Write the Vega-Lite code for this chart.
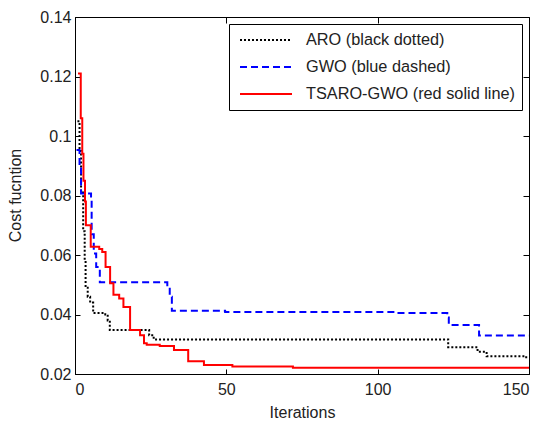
{
  "$schema": "https://vega.github.io/schema/vega-lite/v6.json",
  "width": 454,
  "height": 357,
  "autosize": {"type": "none"},
  "padding": {"left": 75, "top": 17, "right": 21, "bottom": 54},
  "background": "white",
  "config": {
    "font": "Liberation Sans",
    "view": {"stroke": "black", "strokeWidth": 1},
    "axis": {
      "grid": false,
      "domainColor": "black",
      "tickColor": "black",
      "labelColor": "#222",
      "titleColor": "#222",
      "labelFont": "Liberation Sans",
      "titleFont": "Liberation Sans",
      "labelFontSize": 16,
      "titleFontSize": 16,
      "titleFontWeight": "normal",
      "tickSize": -5
    }
  },
  "data": {
    "values": [
      {"series": "ARO (black dotted)", "x": 0.8, "y": 0.105},
      {"series": "ARO (black dotted)", "x": 1.5, "y": 0.095},
      {"series": "ARO (black dotted)", "x": 2, "y": 0.081},
      {"series": "ARO (black dotted)", "x": 2.7, "y": 0.068},
      {"series": "ARO (black dotted)", "x": 3.2, "y": 0.058},
      {"series": "ARO (black dotted)", "x": 3.5, "y": 0.049},
      {"series": "ARO (black dotted)", "x": 4.2, "y": 0.046},
      {"series": "ARO (black dotted)", "x": 5, "y": 0.044},
      {"series": "ARO (black dotted)", "x": 6, "y": 0.0405},
      {"series": "ARO (black dotted)", "x": 10, "y": 0.04},
      {"series": "ARO (black dotted)", "x": 10.8, "y": 0.038},
      {"series": "ARO (black dotted)", "x": 11.5, "y": 0.0348},
      {"series": "ARO (black dotted)", "x": 24.5, "y": 0.033},
      {"series": "ARO (black dotted)", "x": 26, "y": 0.0316},
      {"series": "ARO (black dotted)", "x": 123.3, "y": 0.029},
      {"series": "ARO (black dotted)", "x": 133, "y": 0.0275},
      {"series": "ARO (black dotted)", "x": 136, "y": 0.026},
      {"series": "ARO (black dotted)", "x": 148.7, "y": 0.0256},
      {"series": "ARO (black dotted)", "x": 150, "y": 0.0256},
      {"series": "GWO (blue dashed)", "x": 0.5, "y": 0.0953},
      {"series": "GWO (blue dashed)", "x": 1.5, "y": 0.09},
      {"series": "GWO (blue dashed)", "x": 2, "y": 0.0807},
      {"series": "GWO (blue dashed)", "x": 5.3, "y": 0.079},
      {"series": "GWO (blue dashed)", "x": 5.5, "y": 0.067},
      {"series": "GWO (blue dashed)", "x": 6.2, "y": 0.0605},
      {"series": "GWO (blue dashed)", "x": 7, "y": 0.056},
      {"series": "GWO (blue dashed)", "x": 8.2, "y": 0.0508},
      {"series": "GWO (blue dashed)", "x": 30.5, "y": 0.049},
      {"series": "GWO (blue dashed)", "x": 31.3, "y": 0.046},
      {"series": "GWO (blue dashed)", "x": 32, "y": 0.0413},
      {"series": "GWO (blue dashed)", "x": 49.6, "y": 0.0408},
      {"series": "GWO (blue dashed)", "x": 105.7, "y": 0.0405},
      {"series": "GWO (blue dashed)", "x": 123, "y": 0.039},
      {"series": "GWO (blue dashed)", "x": 123.5, "y": 0.0365},
      {"series": "GWO (blue dashed)", "x": 133.5, "y": 0.0329},
      {"series": "GWO (blue dashed)", "x": 150, "y": 0.0329},
      {"series": "TSARO-GWO (red solid line)", "x": 1, "y": 0.121},
      {"series": "TSARO-GWO (red solid line)", "x": 1.9, "y": 0.106},
      {"series": "TSARO-GWO (red solid line)", "x": 2.4, "y": 0.094},
      {"series": "TSARO-GWO (red solid line)", "x": 2.8, "y": 0.085},
      {"series": "TSARO-GWO (red solid line)", "x": 3.3, "y": 0.078},
      {"series": "TSARO-GWO (red solid line)", "x": 3.6, "y": 0.07},
      {"series": "TSARO-GWO (red solid line)", "x": 5.2, "y": 0.0628},
      {"series": "TSARO-GWO (red solid line)", "x": 8, "y": 0.062},
      {"series": "TSARO-GWO (red solid line)", "x": 9, "y": 0.061},
      {"series": "TSARO-GWO (red solid line)", "x": 10.1, "y": 0.056},
      {"series": "TSARO-GWO (red solid line)", "x": 11.6, "y": 0.0505},
      {"series": "TSARO-GWO (red solid line)", "x": 12.7, "y": 0.0466},
      {"series": "TSARO-GWO (red solid line)", "x": 14.6, "y": 0.0454},
      {"series": "TSARO-GWO (red solid line)", "x": 16, "y": 0.0425},
      {"series": "TSARO-GWO (red solid line)", "x": 18.2, "y": 0.0348},
      {"series": "TSARO-GWO (red solid line)", "x": 21.5, "y": 0.033},
      {"series": "TSARO-GWO (red solid line)", "x": 22.8, "y": 0.0303},
      {"series": "TSARO-GWO (red solid line)", "x": 23.7, "y": 0.0298},
      {"series": "TSARO-GWO (red solid line)", "x": 28, "y": 0.0294},
      {"series": "TSARO-GWO (red solid line)", "x": 32.7, "y": 0.0281},
      {"series": "TSARO-GWO (red solid line)", "x": 37.4, "y": 0.0243},
      {"series": "TSARO-GWO (red solid line)", "x": 42.6, "y": 0.023},
      {"series": "TSARO-GWO (red solid line)", "x": 52, "y": 0.0225},
      {"series": "TSARO-GWO (red solid line)", "x": 72, "y": 0.0221},
      {"series": "TSARO-GWO (red solid line)", "x": 150, "y": 0.0221}
    ]
  },
  "layer": [
    {
      "mark": {"type": "line", "interpolate": "step-after", "strokeWidth": 2, "clip": true},
      "encoding": {
        "x": {
          "field": "x", "type": "quantitative",
          "scale": {"domain": [0, 150], "nice": false},
          "axis": {"values": [0, 50, 100, 150], "title": "Iterations", "labelPadding": 12, "titlePadding": 7}
        },
        "y": {
          "field": "y", "type": "quantitative",
          "scale": {"domain": [0.02, 0.14], "nice": false, "zero": false},
          "axis": {"values": [0.02, 0.04, 0.06, 0.08, 0.1, 0.12, 0.14], "format": ".2~f", "title": "Cost fucntion", "labelPadding": 9, "titleX": -52, "titleY": 178}
        },
        "color": {
          "field": "series", "type": "nominal",
          "scale": {"domain": ["ARO (black dotted)", "GWO (blue dashed)", "TSARO-GWO (red solid line)"], "range": ["#000000", "#0000ff", "#ff0000"]},
          "legend": {
            "title": null,
            "orient": "top-right",
            "offset": 7,
            "strokeColor": "black",
            "fillColor": "white",
            "padding": 7,
            "symbolType": "M-3.25,0H3.25",
            "symbolSize": 256,
            "symbolStrokeWidth": 2,
            "symbolOffset": 21,
            "labelFontSize": 16.3,
            "labelColor": "#222",
            "labelFont": "Liberation Sans",
            "labelLimit": 400,
            "labelOffset": 31,
            "rowPadding": 9,
            "cornerRadius": 0
          }
        },
        "strokeDash": {
          "field": "series", "type": "nominal",
          "scale": {"domain": ["ARO (black dotted)", "GWO (blue dashed)", "TSARO-GWO (red solid line)"], "range": [[2, 2], [7, 4], [1, 0]]},
          "legend": null
        }
      }
    },
    {
      "mark": {"type": "line", "opacity": 0},
      "encoding": {
        "x": {"field": "x", "type": "quantitative", "axis": {"orient": "top", "values": [0, 50, 100, 150], "labels": false, "title": null, "domain": false, "tickSize": -6}},
        "y": {"field": "y", "type": "quantitative", "axis": {"orient": "right", "values": [0.02, 0.04, 0.06, 0.08, 0.1, 0.12, 0.14], "labels": false, "title": null, "domain": false, "tickSize": -6}},
        "detail": {"field": "series"}
      }
    }
  ],
  "resolve": {"axis": {"x": "independent", "y": "independent"}}
}
